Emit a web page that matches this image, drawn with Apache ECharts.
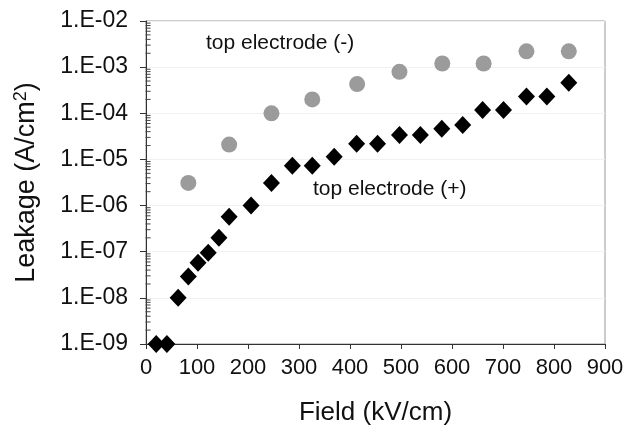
<!DOCTYPE html>
<html>
<head>
<meta charset="utf-8">
<script src="https://cdn.jsdelivr.net/npm/echarts@6/dist/echarts.min.js"></script>
<style>
  html, body { margin: 0; padding: 0; background: #fff; }
  #chart { width: 627px; height: 433px; }
</style>
</head>
<body>
<div id="chart"></div>
<script>
// top electrode (-) : grey circles
var negField = [83, 163, 246, 326, 414, 497, 581, 662, 746, 829];
var negLeak = [3.1e-6, 2.1e-5, 1.0e-4, 2.0e-4, 4.3e-4, 7.9e-4, 1.2e-3, 1.2e-3, 2.2e-3, 2.2e-3];

// top electrode (+) : black diamonds
var posField = [20, 41, 63, 83, 102, 122, 143, 163, 206, 246, 287, 326, 369, 413, 454, 497, 538, 580, 621, 660, 701, 746, 786, 829];
var posLeak = [1e-9, 1e-9, 1e-8, 2.9e-8, 5.8e-8, 9.5e-8, 2.0e-7, 5.7e-7, 1.0e-6, 3.1e-6, 7.3e-6, 7.3e-6,
  1.15e-5, 2.2e-5, 2.2e-5, 3.4e-5, 3.4e-5, 4.6e-5, 5.6e-5, 1.18e-4, 1.18e-4, 2.3e-4, 2.3e-4, 4.6e-4];

var decades = [-9, -8, -7, -6, -5, -4, -3];
var minorMult = [2, 3, 4, 5, 6, 7, 8, 9];

var font = "'Liberation Sans', Arial, sans-serif";

function pairs(xs, ys) {
  return xs.map(function (x, i) { return [x, ys[i]]; });
}

function expLabel(v) {
  var e = Math.round(Math.log10(v));
  var n = Math.abs(e);
  return '1.E' + (e < 0 ? '-' : '+') + (n < 10 ? '0' + n : n);
}

// minor ticks of the log axis, 2..9 in each decade
var minorData = [];
decades.forEach(function (d) {
  minorMult.forEach(function (m) { minorData.push([4, m * Math.pow(10, d)]); });
});

var myChart = echarts.init(document.getElementById('chart'));
option = {
  animation: false,
  backgroundColor: '#fff',
  grid: {
    left: 146, right: 22, top: 21, bottom: 89,
    show: true, borderColor: '#999', borderWidth: 1
  },
  xAxis: {
    type: 'value',
    min: 0, max: 900, interval: 100,
    name: 'Field (kV/cm)',
    nameLocation: 'middle',
    nameGap: 56,
    nameTextStyle: { fontFamily: font, fontSize: 26, color: '#111' },
    axisLine: { lineStyle: { color: '#333', width: 1 } },
    axisTick: { show: true, length: 5, lineStyle: { color: '#333' } },
    axisLabel: { fontFamily: font, fontSize: 22, color: '#111', margin: 13 },
    splitLine: { show: false }
  },
  yAxis: {
    type: 'log',
    logBase: 10,
    min: 1e-9, max: 1e-2, interval: 1,
    name: '{a|Leakage (A/cm}{s|2}{a|)}',
    nameLocation: 'middle',
    nameGap: 104,
    nameTextStyle: {
      rich: {
        a: { fontFamily: font, fontSize: 27, color: '#111' },
        s: { fontFamily: font, fontSize: 18, color: '#111', padding: [0, 0, 12, 0] }
      }
    },
    axisLine: { show: true, lineStyle: { color: '#333', width: 1 } },
    axisTick: { show: true, length: 6, lineStyle: { color: '#333' } },
    axisLabel: { fontFamily: font, fontSize: 23, color: '#111', margin: 18, formatter: expLabel },
    splitLine: { show: true, lineStyle: { color: '#f1f1f1' } }
  },
  series: [
    {
      name: 'minor',
      type: 'scatter',
      silent: true,
      clip: false,
      z: 5,
      symbol: 'rect',
      symbolSize: [5, 1],
      itemStyle: { color: '#444', opacity: 1 },
      data: minorData
    },
    {
      name: 'top electrode (-)',
      type: 'scatter',
      symbol: 'circle',
      symbolSize: 16,
      clip: false,
      itemStyle: { color: '#9b9b9b', opacity: 1 },
      data: pairs(negField, negLeak)
    },
    {
      name: 'top electrode (+)',
      type: 'scatter',
      symbol: 'diamond',
      symbolSize: [17, 18],
      clip: false,
      itemStyle: { color: '#000', opacity: 1 },
      data: pairs(posField, posLeak)
    }
  ],
  graphic: [
    {
      type: 'text', left: 206, top: 33,
      style: { text: 'top electrode (-)', font: '21px ' + font, fill: '#111' }
    },
    {
      type: 'text', left: 313, top: 179,
      style: { text: 'top electrode (+)', font: '21px ' + font, fill: '#111' }
    }
  ]
};
myChart.setOption(option);
</script>
</body>
</html>
